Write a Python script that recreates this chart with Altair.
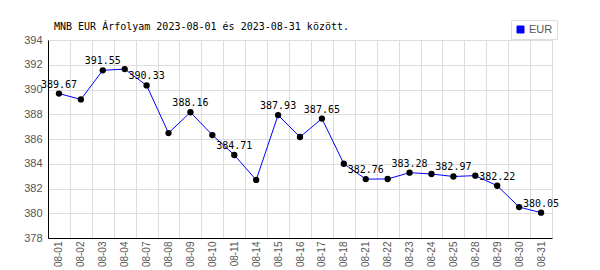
import altair as alt
import pandas as pd

dates = ["08-01", "08-02", "08-03", "08-04", "08-07", "08-08", "08-09", "08-10",
         "08-11", "08-14", "08-15", "08-16", "08-17", "08-18", "08-21", "08-22",
         "08-23", "08-24", "08-25", "08-28", "08-29", "08-30", "08-31"]
values = [389.67, 389.20, 391.55, 391.65, 390.33, 386.48, 388.16, 386.32,
          384.71, 382.69, 387.93, 386.16, 387.65, 384.00, 382.76, 382.77,
          383.28, 383.17, 382.97, 383.04, 382.22, 380.50, 380.05]
series = "EUR"
y_ticks = [378, 380, 382, 384, 386, 388, 390, 392, 394]

df = pd.DataFrame({
    "date": dates,
    "value": values,
    "series": [series] * len(dates),
    "label": [f"{v:.2f}" if i % 2 == 0 else "" for i, v in enumerate(values)],
})

x = alt.X(
    "date:O",
    sort=dates,
    bandPosition=0.5,
    scale=alt.Scale(type="band", paddingInner=0, paddingOuter=0),
    axis=alt.Axis(
        title=None, labelAngle=-90, tickBand="extent", ticks=False, tickSize=0,
        labelPadding=3, labelFont="Liberation Sans", labelFontSize=10,
        labelColor="#555555", grid=True, gridColor="#dddddd", domainColor="#000000",
        domainWidth=1, labelBaseline="middle", labelAlign="right",
    ),
)
y = alt.Y(
    "value:Q",
    scale=alt.Scale(domain=[378, 394], nice=False, zero=False),
    axis=alt.Axis(
        title=None, values=y_ticks, ticks=False, tickSize=0, labelPadding=6,
        labelFont="Liberation Sans", labelFontSize=11, labelColor="#555555",
        grid=True, gridColor="#dddddd", domainColor="#000000", domainWidth=1,
    ),
)

base = alt.Chart(df)

line = base.mark_line(strokeWidth=1).encode(
    x=x, y=y,
    color=alt.Color(
        "series:N",
        scale=alt.Scale(range=["#0000ff"]),
        legend=alt.Legend(
            title=None, orient="none", legendX=463, legendY=-20,
            strokeColor="#dddddd", fillColor="#ffffff", padding=4,
            symbolType="square", symbolSize=49, symbolFillColor="#0000ff",
            symbolStrokeColor="#000066", symbolStrokeWidth=1, labelOffset=3,
            labelFont="Liberation Sans", labelFontSize=11, labelColor="#555555",
        ),
    ),
)

points = base.mark_circle(size=40, color="#000000", opacity=1).encode(x=x, y=y)

labels = base.mark_text(
    font="DejaVu Sans Mono", fontSize=10, color="#000000",
    align="center", baseline="alphabetic", dy=-6,
).encode(x=x, y=y, text="label:N")

chart = alt.layer(line, points, labels).properties(
    width=504,
    height=198,
    autosize=alt.AutoSizeParams(type="none"),
    padding={"left": 48, "top": 40, "right": 48, "bottom": 32},
    title=alt.TitleParams(
        text="MNB EUR Árfolyam 2023-08-01 és 2023-08-31 között.",
        anchor="start", frame="group", font="DejaVu Sans Mono", fontSize=10,
        fontWeight="normal", color="#000000", dx=6, dy=24, offset=12,
    ),
).configure_view(stroke="#dddddd").configure(background="#ffffff")

chart.save("out.html", embed_options={"renderer": "svg", "actions": False})
